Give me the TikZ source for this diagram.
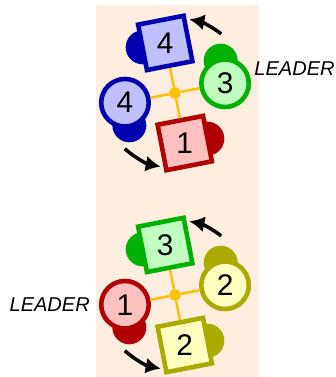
\documentclass[tikz,border=0pt]{standalone}
\usepackage{fontspec}
\setmainfont{Liberation Sans}
\usetikzlibrary{arrows.meta,positioning,shapes.geometric,calc}
\definecolor{bgpeach}{RGB}{253,238,224}
\definecolor{bluedk}{RGB}{0,0,176}
\definecolor{bluelt}{RGB}{192,192,255}
\definecolor{greendk}{RGB}{0,176,0}
\definecolor{greenlt}{RGB}{192,255,192}
\definecolor{reddk}{RGB}{176,0,0}
\definecolor{redlt}{RGB}{255,192,192}
\definecolor{olivedk}{RGB}{170,170,0}
\definecolor{olivelt}{RGB}{255,255,192}
\definecolor{linkgold}{RGB}{255,192,0}

\begin{document}
\begin{tikzpicture}[x=0.02cm,y=0.02cm,
   robot/.style={draw=#1dk,fill=#1lt,line width=2.6pt,inner sep=0pt,
                 font=\fontsize{17}{17}\selectfont},
   sq/.style={robot=#1,regular polygon,regular polygon sides=4,
              shape border rotate=11,minimum size=1.31cm},
   circ/.style={robot=#1,circle,minimum size=0.95cm},
   hub/.style={circle,fill=linkgold,inner sep=0pt,minimum size=0.23cm},
   link/.style={linkgold,line width=1.4pt},
   turn/.style={-{Latex[length=3mm,width=3.2mm]},line width=2pt},
   leader/.style={font=\fontsize{11.4}{12}\selectfont\itshape,inner sep=0pt}]
  \useasboundingbox (0,0) rectangle (335,377);
  \fill[bgpeach] (96,0) rectangle (259,372);

  % upper team
  \node[hub] (c1) at (175,284) {};
  \coordinate (u1) at ($(c1)+(101:51)$);
  \coordinate (u2) at ($(c1)+(11:51)$);
  \coordinate (u3) at ($(c1)+(191:51)$);
  \coordinate (u4) at ($(c1)+(281:51)$);
  \fill[bluedk] ($(u1)+(191:23)$) circle[radius=17];
  \fill[greendk] ($(u2)+(101:23)$) circle[radius=17];
  \fill[bluedk] ($(u3)+(281:23)$) circle[radius=17];
  \fill[reddk] ($(u4)+(11:23)$) circle[radius=17];
  \node[sq=blue] (ua) at (u1) {4};
  \node[circ=green] (ub) at (u2) {3};
  \node[circ=blue] (uc) at (u3) {4};
  \node[sq=red] (ud) at (u4) {1};
  \draw[link] (c1) -- (ua);
  \draw[link] (c1) -- (ub);
  \draw[link] (c1) -- (uc);
  \draw[link] (c1) -- (ud);
  \draw[turn] ($(c1)+(52:75)$) arc[start angle=52,end angle=79,radius=75];
  \draw[turn] ($(c1)+(228:75)$) arc[start angle=228,end angle=259,radius=75];
  \node[leader,anchor=west] (l1) at ($(ub.east)+(3,15)$) {LEADER};

  % lower team
  \node[hub] (c2) at (175,82) {};
  \coordinate (w1) at ($(c2)+(101:51)$);
  \coordinate (w2) at ($(c2)+(11:51)$);
  \coordinate (w3) at ($(c2)+(191:51)$);
  \coordinate (w4) at ($(c2)+(281:51)$);
  \fill[greendk] ($(w1)+(191:23)$) circle[radius=17];
  \fill[olivedk] ($(w2)+(101:23)$) circle[radius=17];
  \fill[reddk] ($(w3)+(281:23)$) circle[radius=17];
  \fill[olivedk] ($(w4)+(11:23)$) circle[radius=17];
  \node[sq=green] (wa) at (w1) {3};
  \node[circ=olive] (wb) at (w2) {2};
  \node[circ=red] (wc) at (w3) {1};
  \node[sq=olive] (wd) at (w4) {2};
  \draw[link] (c2) -- (wa);
  \draw[link] (c2) -- (wb);
  \draw[link] (c2) -- (wc);
  \draw[link] (c2) -- (wd);
  \draw[turn] ($(c2)+(52:75)$) arc[start angle=52,end angle=79,radius=75];
  \draw[turn] ($(c2)+(228:75)$) arc[start angle=228,end angle=259,radius=75];
  \node[leader,left=5pt of wc] (l2) {LEADER};
\end{tikzpicture}
\end{document}
